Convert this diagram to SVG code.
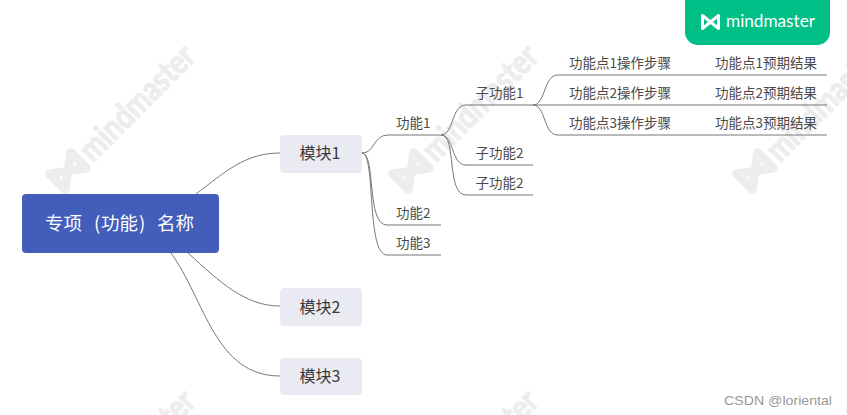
<svg xmlns="http://www.w3.org/2000/svg" width="847" height="415" viewBox="0 0 847 415">
<style>
text{font-family:"Noto Sans CJK SC","Liberation Sans",sans-serif;fill:#4a4a4a}
.l{font-size:13.5px}
.m{font-size:16px;text-anchor:middle;fill:#3a3a3a}
.c{fill:none;stroke:#777;stroke-width:1}
.wt{font-family:"Lato","Liberation Sans",sans-serif;font-weight:700;font-size:34px;fill:#ededed;stroke:#ededed;stroke-width:1.2px}
.wm{fill:none;stroke:#ededed;stroke-width:9;stroke-linejoin:round;stroke-linecap:round}
.root{font-size:18.5px;fill:#fff}
</style>
<defs>
<g id="wmk">
<path class="wm" d="M-15 -11V11L15 -11V11Z"/>
<text class="wt" x="23" y="12" textLength="148" lengthAdjust="spacingAndGlyphs">mindmaster</text>
</g>
</defs>
<rect width="847" height="415" fill="#fff"/>
<g id="watermarks">
<use href="#wmk" transform="translate(68 171) rotate(-45)"/>
<use href="#wmk" transform="translate(411 171) rotate(-45)"/>
<use href="#wmk" transform="translate(755 171) rotate(-45)"/>
<use href="#wmk" transform="translate(68 516) rotate(-45)"/>
<use href="#wmk" transform="translate(411 516) rotate(-45)"/>
<use href="#wmk" transform="translate(755 516) rotate(-45)"/>
</g>
<g id="connectors">
<path class="c" d="M196 194C225 172 245 153 280 153"/>
<path class="c" d="M188 253C220 282 245 306 280 306"/>
<path class="c" d="M171 253C205 300 215 376 280 376"/>
<path class="c" d="M362 153C375 153 373 135 388 135H441"/>
<path class="c" d="M362 153C376 153 366 225 387 225H441"/>
<path class="c" d="M362 153C376 153 366 255 387 255H441"/>
<path class="c" d="M441 135C454 135 451 105 466 105H533"/>
<path class="c" d="M441 135C454 135 451 165 466 165H533"/>
<path class="c" d="M441 135C457 135 446 195 466 195H533"/>
<path class="c" d="M533 105C546 105 543 75 558 75H827"/>
<path class="c" d="M533 105H827"/>
<path class="c" d="M533 105C546 105 543 135 558 135H827"/>
</g>
<g id="root"><rect x="22" y="194" width="197" height="59" rx="4" fill="#425EBA"/><text class="root" x="45" y="230">专项<tspan x="94">(</tspan><tspan x="101">功能</tspan><tspan x="139">)</tspan><tspan x="157">名称</tspan></text></g>
<g id="module1"><rect x="280" y="135" width="82" height="38" rx="4" fill="#E9EAF2"/><text class="m" x="320" y="159">模块1</text></g>
<g id="module2"><rect x="280" y="288" width="82" height="38" rx="4" fill="#E9EAF2"/><text class="m" x="320" y="313">模块2</text></g>
<g id="module3"><rect x="280" y="358" width="82" height="37" rx="4" fill="#E9EAF2"/><text class="m" x="320" y="382">模块3</text></g>
<g id="f1"><text class="l" x="396" y="128">功能1</text></g>
<g id="f2"><text class="l" x="396" y="218">功能2</text></g>
<g id="f3"><text class="l" x="396" y="248">功能3</text></g>
<g id="s1"><text class="l" x="475.500" y="98">子功能1</text></g>
<g id="s2"><text class="l" x="475.500" y="158">子功能2</text></g>
<g id="s3"><text class="l" x="475.500" y="188">子功能2</text></g>
<g id="p1"><text class="l" x="569" y="68">功能点1操作步骤</text></g>
<g id="p2"><text class="l" x="569" y="98">功能点2操作步骤</text></g>
<g id="p3"><text class="l" x="569" y="128">功能点3操作步骤</text></g>
<g id="r1"><text class="l" x="715" y="68">功能点1预期结果</text></g>
<g id="r2"><text class="l" x="715" y="98">功能点2预期结果</text></g>
<g id="r3"><text class="l" x="715" y="128">功能点3预期结果</text></g>
<g id="badge"><rect x="685" y="-12" width="145" height="57" rx="13" fill="#00BF87"/>
<path d="M702.500 15.500V28.500L718.500 15.500V28.500Z" fill="none" stroke="#fff" stroke-width="3" stroke-linejoin="round"/>
<text x="726" y="27" font-size="18" textLength="89" lengthAdjust="spacingAndGlyphs" style="font-family:'Lato','Liberation Sans',sans-serif;fill:#fff">mindmaster</text></g>
<text x="724" y="405" font-size="13.500" textLength="108" lengthAdjust="spacingAndGlyphs" style="font-family:'Liberation Sans',sans-serif;fill:#999">CSDN @loriental</text>
</svg>
